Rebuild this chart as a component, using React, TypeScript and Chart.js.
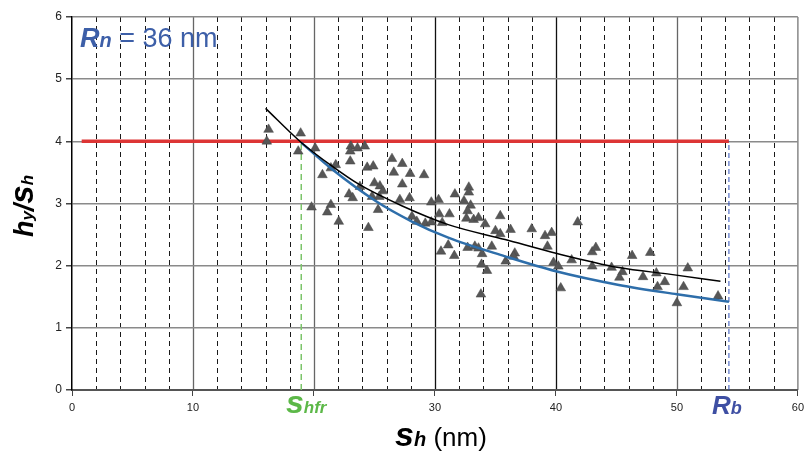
import React, { useEffect, useRef } from 'react';
import { Chart, registerables } from 'chart.js';

Chart.register(...registerables);

// ---- axis / tick data ----
const xMin = 0;
const xMax = 60;
const yMin = 0;
const yMax = 6;
const xMajorGrid = [10, 20, 30, 40, 50];
const xMajorDark = [30, 40];
const xMinorGrid = [2, 4, 6, 8, 12, 14, 16, 18, 22, 24, 26, 28, 32, 34, 36, 38, 42, 44, 46, 48, 52, 54, 56, 58];

// ---- measured points (s_h in nm, h_y/s_h) ----
const spacingX = [
  16.25, 16.1, 18.9, 18.7, 20.1, 23.05, 23.6, 24.2, 23.0, 23.0, 24.4, 24.9, 21.8, 21.4, 20.7, 25.0, 23.8, 22.9, 23.2, 24.8,
  19.8, 21.4, 21.1, 22.05, 24.5,
  26.45, 27.3, 26.6, 27.95, 29.1, 27.3, 25.45, 25.7, 25.4, 27.1, 27.9, 29.7, 30.3, 25.3, 31.65, 32.8, 32.8, 32.4, 32.95, 32.7,
  30.35, 31.2, 30.6, 32.6, 33.2, 33.6, 34.15, 28.1, 28.5, 29.2, 29.7, 30.5, 31.1, 31.6, 32.7, 33.3, 33.6, 33.9, 33.85, 34.3, 33.8,
  35.4, 35.0, 35.4, 36.25, 38.0, 39.1, 39.65, 39.3, 41.8, 34.7, 36.6, 36.5, 35.85, 39.8, 40.2, 41.3, 40.4, 43.0, 43.3, 43.0,
  46.3, 47.8, 44.6, 45.5, 45.25, 47.2, 48.3, 48.4, 49.0, 50.9, 50.55, 50.0, 53.4,
];
const ratioY = [
  4.19, 4.0, 4.13, 3.84, 3.89, 3.92, 3.89, 3.92, 3.84, 3.68, 3.58, 3.6, 3.62, 3.57, 3.46, 3.33, 3.27, 3.15, 3.09, 3.11,
  2.94, 2.98, 2.86, 2.71, 2.61,
  3.72, 3.64, 3.5, 3.48, 3.46, 3.31, 3.28, 3.2, 3.11, 3.06, 3.09, 3.02, 3.06, 2.9, 3.15, 3.26, 3.18, 3.04, 2.97, 2.88,
  2.83, 2.83, 2.69, 2.76, 2.74, 2.77, 2.67, 2.79, 2.71, 2.68, 2.7, 2.23, 2.33, 2.16, 2.29, 2.31, 2.28, 2.19, 2.02, 1.92, 1.54,
  2.8, 2.56, 2.51, 2.58, 2.59, 2.48, 2.53, 2.31, 2.7, 2.31, 2.2, 2.15, 2.07, 2.05, 1.99, 2.09, 1.64, 2.22, 2.29, 1.99,
  2.16, 2.21, 1.97, 1.9, 1.81, 1.82, 1.88, 1.66, 1.74, 1.96, 1.66, 1.4, 1.51,
];

// ---- trend curves ----
const upperFitX = [16.0, 18.9, 21.5, 23.7, 27.3, 31.1, 35.8, 40.0, 45.2, 49.5, 53.6];
const upperFitY = [4.53, 3.99, 3.6, 3.31, 2.96, 2.66, 2.42, 2.2, 1.97, 1.86, 1.75];
const lowerFitX = [18.95, 21.5, 25.1, 28.1, 31.1, 35.8, 40.0, 45.2, 50.0, 54.3];
const lowerFitY = [3.98, 3.55, 3.04, 2.71, 2.45, 2.15, 1.91, 1.69, 1.54, 1.42];

// ---- reference lines ----
const targetRatio = 4;
const targetLineX = [0.8, 54.3];
const shfrValue = 18.95;
const rbValue = 54.3;

const toXY = (xs: number[], ys: number[]) => xs.map((x, i) => ({ x, y: ys[i] }));

type Run = { text: string; font: string; color: string; dy?: number };

function drawRuns(ctx: CanvasRenderingContext2D, runs: Run[], x: number, y: number, align: 'left' | 'center') {
  let total = 0;
  const widths: number[] = [];
  runs.forEach((r) => {
    ctx.font = r.font;
    const w = ctx.measureText(r.text).width;
    widths.push(w);
    total += w;
  });
  let cx = align === 'center' ? x - total / 2 : x;
  ctx.textAlign = 'left';
  ctx.textBaseline = 'alphabetic';
  runs.forEach((r, i) => {
    ctx.font = r.font;
    ctx.fillStyle = r.color;
    ctx.fillText(r.text, cx, y + (r.dy || 0));
    cx += widths[i];
  });
}

const FF = '"Liberation Sans", Arial, Helvetica, sans-serif';

const decorPlugin = {
  id: 'decor',
  beforeDraw(chart: any) {
    const { ctx, chartArea, scales } = chart;
    const xs = scales.x;
    ctx.save();
    ctx.fillStyle = '#ffffff';
    ctx.fillRect(0, 0, chart.width, chart.height);
    // minor dashed verticals
    ctx.strokeStyle = '#1a1a1a';
    ctx.lineWidth = 1;
    ctx.setLineDash([5, 4]);
    xMinorGrid.forEach((v) => {
      const px = Math.round(xs.getPixelForValue(v)) + 0.5;
      ctx.beginPath();
      ctx.moveTo(px, chartArea.top);
      ctx.lineTo(px, chartArea.bottom);
      ctx.stroke();
    });
    ctx.setLineDash([]);
    // major solid verticals
    xMajorGrid.forEach((v) => {
      ctx.strokeStyle = xMajorDark.includes(v) ? '#111111' : '#666666';
      ctx.lineWidth = 1.3;
      const px = Math.round(xs.getPixelForValue(v)) + 0.5;
      ctx.beginPath();
      ctx.moveTo(px, chartArea.top);
      ctx.lineTo(px, chartArea.bottom);
      ctx.stroke();
    });
    // right border
    ctx.strokeStyle = '#888888';
    ctx.lineWidth = 1.5;
    const rx = xs.getPixelForValue(xMax);
    ctx.beginPath();
    ctx.moveTo(rx, chartArea.top);
    ctx.lineTo(rx, chartArea.bottom);
    ctx.stroke();
    ctx.restore();
  },
  afterDraw(chart: any) {
    const { ctx, scales } = chart;
    const xs = scales.x;
    ctx.save();
    const blue = '#3d5fa8';
    drawRuns(
      ctx,
      [
        { text: 'R', font: `italic bold 27px ${FF}`, color: blue },
        { text: 'n', font: `italic bold 20px ${FF}`, color: blue },
        { text: ' = 36 nm', font: `27px ${FF}`, color: blue },
      ],
      80,
      47,
      'left'
    );
    // x-axis title
    drawRuns(
      ctx,
      [
        { text: 's', font: `italic bold 34px ${FF}`, color: '#000' },
        { text: 'h', font: `italic bold 20px ${FF}`, color: '#000' },
        { text: ' (nm)', font: `26px ${FF}`, color: '#000' },
      ],
      441,
      446,
      'center'
    );
    // Shfr label
    const green = '#5cb848';
    drawRuns(
      ctx,
      [
        { text: 's', font: `italic bold 32px ${FF}`, color: green },
        { text: 'hfr', font: `italic bold 17px ${FF}`, color: green },
      ],
      xs.getPixelForValue(shfrValue) + 5,
      413,
      'center'
    );
    // Rb label
    const purple = '#3e4fa3';
    drawRuns(
      ctx,
      [
        { text: 'R', font: `italic bold 26px ${FF}`, color: purple },
        { text: 'b', font: `italic bold 18px ${FF}`, color: purple },
      ],
      xs.getPixelForValue(rbValue) - 2,
      414,
      'center'
    );
    // y-axis title (rotated)
    ctx.translate(33, 206);
    ctx.rotate(-Math.PI / 2);
    drawRuns(
      ctx,
      [
        { text: 'h', font: `italic bold 27px ${FF}`, color: '#000' },
        { text: 'y', font: `italic bold 17px ${FF}`, color: '#000' },
        { text: '/', font: `italic bold 27px ${FF}`, color: '#000' },
        { text: 's', font: `italic bold 33px ${FF}`, color: '#000' },
        { text: 'h', font: `italic bold 17px ${FF}`, color: '#000' },
      ],
      0,
      0,
      'center'
    );
    ctx.restore();
  },
};

export default function App() {
  const ref = useRef<HTMLCanvasElement>(null);
  useEffect(() => {
    if (!ref.current) return;
    const chart = new Chart(ref.current, {
      type: 'scatter',
      data: {
        datasets: [
          {
            label: 'upper fit',
            data: toXY(upperFitX, upperFitY),
            showLine: true,
            borderColor: '#000000',
            borderWidth: 1.5,
            pointRadius: 0,
            cubicInterpolationMode: 'monotone',
            order: 1,
          } as any,
          {
            label: 'lower fit',
            data: toXY(lowerFitX, lowerFitY),
            showLine: true,
            borderColor: '#2e6eaa',
            borderWidth: 2.5,
            pointRadius: 0,
            cubicInterpolationMode: 'monotone',
            order: 2,
          } as any,
          {
            label: 'data',
            data: toXY(spacingX, ratioY),
            pointStyle: 'triangle',
            pointRadius: 5.6,
            backgroundColor: '#575757',
            borderColor: '#444444',
            borderWidth: 0.5,
            order: 3,
          } as any,
          {
            label: 'shfr',
            data: [
              { x: shfrValue, y: 0 },
              { x: shfrValue, y: targetRatio },
            ],
            showLine: true,
            borderColor: '#7cc46a',
            borderWidth: 1.5,
            borderDash: [6, 4],
            pointRadius: 0,
            order: 4,
          } as any,
          {
            label: 'rb',
            data: [
              { x: rbValue, y: 0 },
              { x: rbValue, y: targetRatio },
            ],
            showLine: true,
            borderColor: '#3050b8',
            borderWidth: 1,
            borderDash: [5, 3],
            pointRadius: 0,
            order: 4,
          } as any,
          {
            label: 'target',
            data: targetLineX.map((x) => ({ x, y: targetRatio })),
            showLine: true,
            borderColor: '#dd3535',
            borderWidth: 3.5,
            pointRadius: 0,
            order: 5,
          } as any,
        ],
      },
      options: {
        animation: false,
        responsive: false,
        devicePixelRatio: 1,
        layout: { padding: { left: 0, right: 9, top: 17, bottom: 0 } },
        plugins: { legend: { display: false }, tooltip: { enabled: false } },
        scales: {
          x: {
            type: 'linear',
            min: xMin,
            max: xMax,
            afterFit: (s: any) => {
              s.height = 73;
            },
            ticks: {
              stepSize: 10,
              autoSkip: false,
              maxRotation: 0,
              padding: 5,
              color: '#222',
              font: { family: FF, size: 11 },
              callback: (v: any) => (v === 20 ? '' : String(v)),
            },
            grid: {
              drawOnChartArea: false,
              drawTicks: true,
              tickLength: 6,
              tickColor: '#444',
              color: 'rgba(0,0,0,0)',
            },
            border: { display: true, color: '#555', width: 2 },
          },
          y: {
            type: 'linear',
            min: yMin,
            max: yMax,
            afterFit: (s: any) => {
              s.width = 72;
            },
            ticks: {
              stepSize: 1,
              padding: 4,
              color: '#222',
              font: { family: FF, size: 12 },
            },
            grid: {
              color: '#8a8a8a',
              lineWidth: 1.5,
              tickLength: 6,
              tickColor: '#444',
            },
            border: { display: true, color: '#000', width: 1.5 },
          },
        },
      },
      plugins: [decorPlugin],
    } as any);
    return () => chart.destroy();
  }, []);
  return (
    <div style={{ position: 'absolute', left: 0, top: 0, width: 809, height: 463, background: '#fff' }}>
      <canvas ref={ref} width={809} height={463} style={{ display: 'block', width: 809, height: 463 }} />
    </div>
  );
}
